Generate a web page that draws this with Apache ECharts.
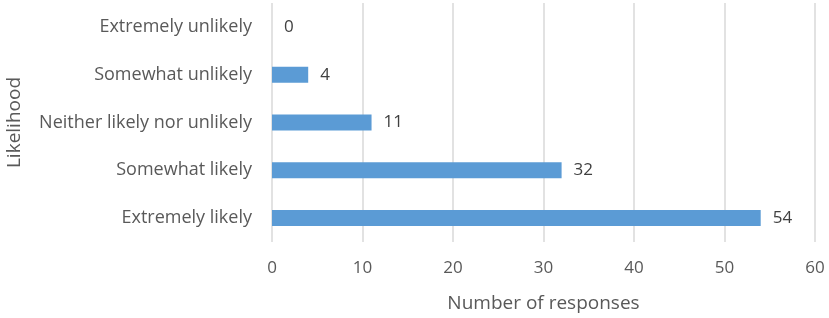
<!DOCTYPE html>
<html>
<head>
<meta charset="utf-8">
<script src="https://cdn.jsdelivr.net/npm/echarts@6/dist/echarts.min.js"></script>
<style>
  html, body { margin: 0; padding: 0; background: #fff; }
  #chart { width: 829px; height: 318px; }
</style>
</head>
<body>
<div id="chart"></div>
<script>
// categories listed bottom to top (category axis starts at the bottom)
const categories = ['Extremely likely', 'Somewhat likely', 'Neither likely nor unlikely', 'Somewhat unlikely', 'Extremely unlikely']
const responses = [54, 32, 11, 4, 0]
const xTicks = [0, 10, 20, 30, 40, 50, 60]

const font = '"Open Sans", "Noto Sans", sans-serif'
const textColor = '#595959'

const chart = echarts.init(document.getElementById('chart'), null, { renderer: 'canvas' })

const option = {
  animation: false,
  textStyle: { fontFamily: font },
  grid: {
    left: 272,
    right: 14,
    top: 3,
    bottom: 76,
    containLabel: false,
    outerBoundsMode: 'none'
  },
  xAxis: {
    type: 'value',
    min: xTicks[0],
    max: xTicks[xTicks.length - 1],
    interval: 10,
    name: 'Number of responses',
    nameLocation: 'middle',
    nameGap: 52,
    nameMoveOverlap: false,
    nameTextStyle: { fontSize: 19, color: textColor, fontFamily: font },
    axisLine: { show: false },
    axisTick: { show: false },
    axisLabel: { fontSize: 17, color: textColor, margin: 18, fontFamily: font },
    splitLine: { show: true, lineStyle: { color: '#d9d9d9', width: 1.5 } }
  },
  yAxis: {
    type: 'category',
    data: categories,
    name: 'Likelihood',
    nameLocation: 'middle',
    nameGap: 248,
    nameMoveOverlap: false,
    nameRotate: 90,
    nameTextStyle: { fontSize: 19, color: textColor, fontFamily: font },
    axisLine: { show: false },
    axisTick: { show: false },
    axisLabel: { fontSize: 18, color: textColor, margin: 20, fontFamily: font },
    splitLine: { show: false }
  },
  series: [
    {
      type: 'bar',
      data: responses,
      barWidth: 16,
      itemStyle: {
        color: '#5b9bd5'
      },
      label: {
        show: true,
        position: 'right',
        distance: 12,
        fontSize: 17,
        color: '#404040',
        fontFamily: font
      }
    }
  ]
}

chart.setOption(option)
</script>
</body>
</html>
